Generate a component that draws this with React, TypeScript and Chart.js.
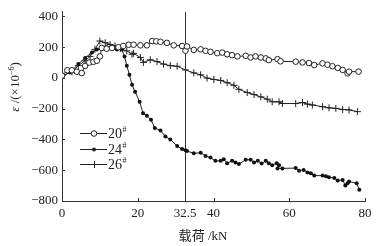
import React, { useEffect, useRef } from "react";
import { Chart, registerables } from "chart.js";

Chart.register(...registerables);

const load20 = [0, 1.4, 2.6, 3.9, 5.2, 6.1, 7.2, 8.3, 9.2, 10, 10.5, 11.8, 13.2, 14.9, 16.2, 17.6, 18.9, 20.7, 22.4, 23.8, 24.9, 26, 27.7, 29.5, 31.7, 32.6, 33, 34.8, 36.6, 37.9, 39.2, 41, 42.3, 43.6, 44.9, 46.3, 48.5, 49.8, 51.1, 52.5, 53.8, 54.6, 56.9, 57.7, 61.7, 63.5, 65.2, 66.6, 68.8, 70.1, 71.4, 72.8, 74.1, 75.4, 75.8, 78.3];
const strain20 = [15, 50, 50, 40, 32, 78, 100, 105, 112, 140, 195, 190, 195, 200, 208, 216, 216, 212, 212, 240, 238, 235, 228, 212, 208, 177, 205, 182, 186, 176, 170, 161, 165, 154, 148, 140, 144, 133, 140, 133, 127, 116, 122, 108, 106, 101, 97, 84, 95, 86, 76, 65, 52, 30, 41, 41];

const load24 = [0, 2.1, 4.3, 6.1, 7.9, 9.2, 10.5, 11.8, 13.2, 14.5, 15.8, 16.5, 17.1, 17.8, 18.5, 19.3, 20.5, 21.4, 22.4, 23.5, 24.5, 26, 27.3, 28.6, 30.4, 31.7, 32.6, 33, 34.8, 36.6, 37.9, 39.2, 40.5, 41.9, 42.7, 43.6, 44.9, 45.8, 46.7, 48.5, 49.8, 50.7, 51.7, 52.7, 53.8, 54.6, 55.5, 56.7, 57.3, 56.9, 58.2, 61.7, 62.6, 63.8, 64.8, 65.7, 66.6, 68.8, 69.7, 70.5, 71.9, 72.8, 74.1, 74.8, 75.4, 75.8, 77.8, 78.5];
const strain24 = [10, 35, 90, 130, 165, 185, 200, 200, 195, 185, 185, 140, 80, 20, -45, -90, -155, -230, -245, -272, -325, -342, -380, -400, -443, -462, -470, -475, -490, -486, -507, -518, -539, -539, -528, -554, -539, -549, -560, -532, -532, -549, -539, -556, -539, -554, -567, -554, -567, -588, -588, -586, -603, -598, -614, -620, -635, -635, -639, -646, -650, -667, -663, -699, -684, -674, -684, -727];

const load26 = [0, 2.6, 4.3, 6.1, 7.4, 8.7, 10, 11.4, 12.7, 14, 15.4, 17.1, 18.5, 18.9, 20.7, 21.5, 23.3, 25.1, 26.8, 28.6, 30.4, 32.6, 34.8, 36.6, 38.3, 40.1, 41.9, 43.6, 45.4, 46.7, 48.9, 50.7, 52.5, 54.2, 55.5, 57.3, 58.2, 61.7, 63.5, 64.8, 66.1, 68.8, 70.5, 72.3, 74.1, 75.8, 78];
const strain26 = [15, 40, 80, 112, 140, 186, 240, 229, 218, 208, 191, 176, 154, 160, 133, 101, 118, 106, 90, 80, 76, 52, 33, 20, -1, -10, -16, -31, -48, -74, -95, -108, -123, -138, -155, -155, -166, -166, -160, -170, -176, -187, -194, -198, -205, -208, -219];

const xTicks = [0, 20, 32.5, 40, 60, 80];
const yTicks = [-800, -600, -400, -200, 0, 200, 400];
const markLoad = 32.5;
const seriesNames = ["20", "24", "26"];

const SERIF = '"Liberation Serif", "DejaVu Serif", serif';

const zip = (xs: number[], ys: number[]) => xs.map((x, i) => ({ x, y: ys[i] }));

const decor = {
  id: "decor",
  beforeDatasetsDraw(chart: any) {
    const { ctx, chartArea, scales } = chart;
    const xs = scales.x;
    const ys = scales.y;
    ctx.save();
    ctx.strokeStyle = "#333";
    ctx.lineWidth = 1;
    // vertical line at 32.5
    const vx = Math.round(xs.getPixelForValue(markLoad)) + 0.5;
    ctx.beginPath();
    ctx.moveTo(vx, chartArea.top);
    ctx.lineTo(vx, chartArea.bottom);
    ctx.stroke();
    // inward ticks on y
    yTicks.forEach((v) => {
      const py = Math.round(ys.getPixelForValue(v)) + 0.5;
      ctx.beginPath();
      ctx.moveTo(chartArea.left, py);
      ctx.lineTo(chartArea.left + 3, py);
      ctx.stroke();
    });
    [20, 40, 60, 80].forEach((v) => {
      const px = Math.round(xs.getPixelForValue(v)) + 0.5;
      ctx.beginPath();
      ctx.moveTo(px, chartArea.bottom);
      ctx.lineTo(px, chartArea.bottom - 3);
      ctx.stroke();
    });
    ctx.restore();
  },
  afterDraw(chart: any) {
    const { ctx } = chart;
    ctx.save();
    ctx.fillStyle = "#222";
    ctx.strokeStyle = "#222";
    // legend
    const rows = [133, 149, 164];
    rows.forEach((y, i) => {
      ctx.lineWidth = 1;
      ctx.beginPath();
      ctx.moveTo(80, y + 0.5);
      ctx.lineTo(107, y + 0.5);
      ctx.stroke();
      if (i === 0) {
        ctx.beginPath();
        ctx.arc(94, y + 0.5, 2.8, 0, Math.PI * 2);
        ctx.fillStyle = "#fff";
        ctx.fill();
        ctx.stroke();
        ctx.fillStyle = "#222";
      } else if (i === 1) {
        ctx.beginPath();
        ctx.arc(94, y + 0.5, 2, 0, Math.PI * 2);
        ctx.fill();
      } else {
        ctx.beginPath();
        ctx.moveTo(94.5, y - 3);
        ctx.lineTo(94.5, y + 4);
        ctx.stroke();
      }
      ctx.font = `14px ${SERIF}`;
      ctx.textAlign = "left";
      ctx.textBaseline = "middle";
      ctx.fillText(seriesNames[i], 108, y + 1);
      const w = ctx.measureText(seriesNames[i]).width;
      ctx.font = `8px ${SERIF}`;
      ctx.fillText("#", 108 + w + 0.5, y - 3);
    });
    // x title
    ctx.font = `13px ${SERIF.replace("serif", '"Noto Sans CJK SC", serif')}`;
    ctx.textAlign = "center";
    ctx.textBaseline = "middle";
    ctx.fillText("载荷 /kN", 203, 237);
    // y title
    ctx.translate(16, 87);
    ctx.rotate(-Math.PI / 2);
    const parts: [string, string, number][] = [
      ["ε", `italic 13px ${SERIF}`, 0],
      [" /(×10", `13px ${SERIF}`, 0],
      ["−6", `8px ${SERIF}`, -4],
      [")", `13px ${SERIF}`, 0],
    ];
    let total = 0;
    parts.forEach(([t, f]) => {
      ctx.font = f;
      total += ctx.measureText(t).width;
    });
    let cx = -total / 2;
    ctx.textAlign = "left";
    parts.forEach(([t, f, dy]) => {
      ctx.font = f;
      ctx.fillText(t, cx, dy);
      cx += ctx.measureText(t).width;
    });
    ctx.restore();
  },
};

export default function App() {
  const ref = useRef<HTMLCanvasElement>(null);
  useEffect(() => {
    const canvas = ref.current;
    if (!canvas) return;
    const chart = new Chart(canvas, {
      type: "line",
      data: {
        datasets: [
          {
            label: "20#",
            data: zip(load20, strain20),
            borderColor: "#222",
            backgroundColor: "#fff",
            borderWidth: 1,
            pointStyle: "circle",
            pointRadius: 2.8,
            pointBorderWidth: 1,
            pointBorderColor: "#222",
            pointBackgroundColor: "#fff",
            tension: 0,
          },
          {
            label: "24#",
            data: zip(load24, strain24),
            borderColor: "#222",
            backgroundColor: "#111",
            borderWidth: 1,
            pointStyle: "circle",
            pointRadius: 2,
            pointBorderWidth: 0,
            pointBackgroundColor: "#111",
            tension: 0,
          },
          {
            label: "26#",
            data: zip(load26, strain26),
            borderColor: "#222",
            backgroundColor: "#222",
            borderWidth: 1,
            pointStyle: "cross",
            pointRadius: 3.5,
            pointBorderWidth: 1,
            pointBorderColor: "#222",
            tension: 0,
          },
        ],
      },
      options: {
        responsive: false,
        animation: false,
        layout: { padding: { left: 0, right: 18, top: 8, bottom: 0 } },
        plugins: { legend: { display: false }, tooltip: { enabled: false } },
        scales: {
          x: {
            type: "linear",
            min: 0,
            max: 80,
            afterBuildTicks: (s: any) => {
              s.ticks = xTicks.map((v) => ({ value: v }));
            },
            afterFit: (s: any) => {
              s.height = 45;
            },
            grid: { drawOnChartArea: false, drawTicks: false },
            border: { display: true, color: "#333", width: 1 },
            ticks: {
              padding: 5,
              color: "#222",
              font: { family: SERIF, size: 13 },
              maxRotation: 0,
              autoSkip: false,
              callback: (v: any) => String(v),
            },
          },
          y: {
            type: "linear",
            min: -800,
            max: 430,
            afterBuildTicks: (s: any) => {
              s.ticks = yTicks.map((v) => ({ value: v }));
            },
            afterFit: (s: any) => {
              s.width = 62;
            },
            grid: { drawOnChartArea: false, drawTicks: false },
            border: { display: true, color: "#333", width: 1 },
            ticks: {
              padding: 4,
              color: "#222",
              font: { family: SERIF, size: 13 },
              callback: (v: any) => String(v).replace("-", "−"),
            },
          },
        },
      },
      plugins: [decor],
    });
    return () => chart.destroy();
  }, []);
  return (
    <div style={{ position: "fixed", left: 0, top: 0, width: 383, height: 246, background: "#fff" }}>
      <canvas ref={ref} width={383} height={246} />
    </div>
  );
}
